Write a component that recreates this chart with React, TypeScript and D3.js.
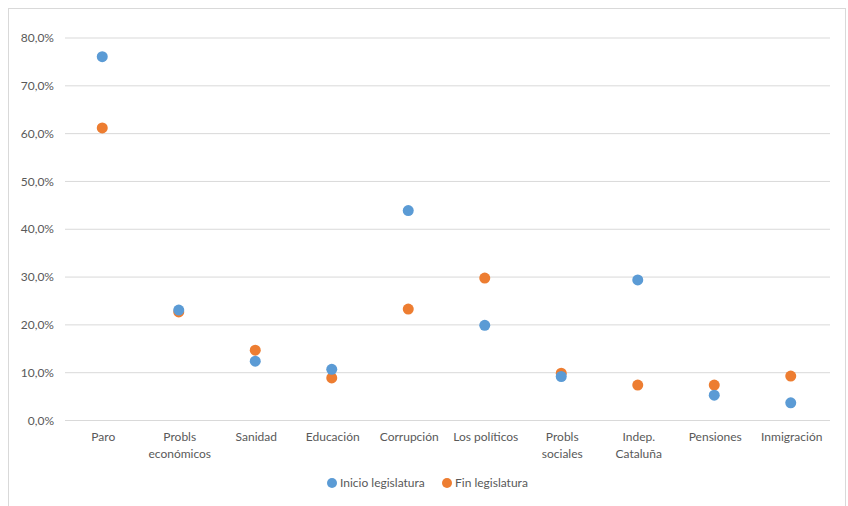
import React from "react";
import * as d3 from "d3";

const categories: string[][] = [
  ["Paro"],
  ["Probls", "económicos"],
  ["Sanidad"],
  ["Educación"],
  ["Corrupción"],
  ["Los políticos"],
  ["Probls", "sociales"],
  ["Indep.", "Cataluña"],
  ["Pensiones"],
  ["Inmigración"],
];
const inicio = [76.1, 23.1, 12.4, 10.7, 43.9, 19.9, 9.2, 29.4, 5.3, 3.7];
const fin = [61.2, 22.7, 14.7, 8.9, 23.3, 29.8, 9.9, 7.4, 7.4, 9.3];
const yTicks = [0, 10, 20, 30, 40, 50, 60, 70, 80];
const seriesNames = ["Inicio legislatura", "Fin legislatura"];

const W = 848;
const H = 506;
const BLUE = "#5B9BD5";
const ORANGE = "#ED7D31";
const TEXT = "#595959";
const FONT = "Lato, 'Open Sans', sans-serif";

export default function App() {
  const x = d3
    .scaleBand<number>()
    .domain(d3.range(categories.length))
    .range([65, 830]);
  const y = d3.scaleLinear().domain([0, 80]).range([420.5, 38]);
  const fmt = (v: number) => v.toFixed(1).replace(".", ",") + "%";
  const cx = (i: number) => (x(i) as number) + x.bandwidth() / 2 - 1;

  // Drawn orange first so the blue series sits on top where they overlap
  const series = [
    { name: seriesNames[1], values: fin, color: ORANGE },
    { name: seriesNames[0], values: inicio, color: BLUE },
  ];

  return (
    <svg
      width={W}
      height={H}
      style={{ position: "absolute", left: 0, top: 0, background: "#fff" }}
    >
      <rect x={8.5} y={8.5} width={837} height={H + 10} fill="#fff" stroke="#d9d9d9" />
      {yTicks.map((t) => (
        <g key={t}>
          <line x1={65} x2={830} y1={y(t)} y2={y(t)} stroke="#d9d9d9" strokeWidth={1} />
          <text
            x={54}
            y={y(t)}
            dy="0.35em"
            textAnchor="end"
            fontFamily={FONT}
            fontSize={12}
            fill={TEXT}
          >
            {fmt(t)}
          </text>
        </g>
      ))}
      {categories.map((lines, i) => (
        <text
          key={i}
          x={cx(i) + 1}
          y={441}
          textAnchor="middle"
          fontFamily={FONT}
          fontSize={12}
          fill={TEXT}
        >
          {lines.map((l, j) => (
            <tspan key={j} x={cx(i) + 1} dy={j === 0 ? 0 : 17}>
              {l}
            </tspan>
          ))}
        </text>
      ))}
      {series.map((s) =>
        s.values.map((v, i) => (
          <circle key={s.name + i} cx={cx(i)} cy={y(v)} r={5.5} fill={s.color} />
        ))
      )}
      <g fontFamily={FONT} fontSize={12} fill={TEXT}>
        <circle cx={332} cy={483} r={5} fill={BLUE} />
        <text x={340} y={483} dy="0.35em">
          {seriesNames[0]}
        </text>
        <circle cx={447} cy={483} r={5} fill={ORANGE} />
        <text x={455} y={483} dy="0.35em">
          {seriesNames[1]}
        </text>
      </g>
    </svg>
  );
}
